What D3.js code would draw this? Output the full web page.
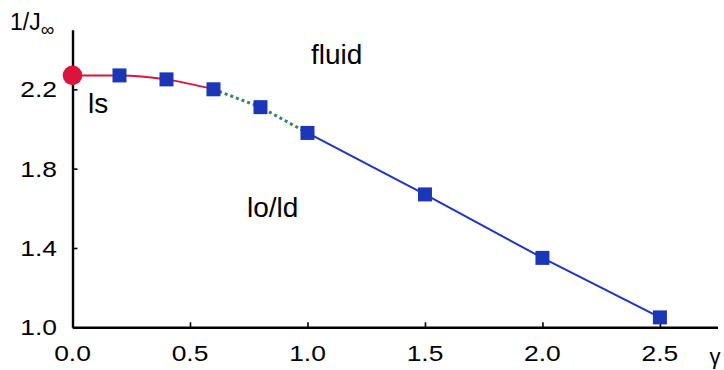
<!DOCTYPE html>
<html>
<head>
<meta charset="utf-8">
<script src="https://cdn.jsdelivr.net/npm/d3@7"></script>
<style>
  html, body { margin: 0; padding: 0; background: #fff; }
  svg { display: block; }
  text { font-family: "Liberation Sans", Arial, Helvetica, sans-serif; fill: #000; }
</style>
</head>
<body>
<svg id="chart" width="724" height="370"></svg>
<script>
// Phase boundary 1/J_inf versus gamma
const lsGamma = [0.0, 0.2, 0.4, 0.6];
const lsValue = [2.27, 2.27, 2.25, 2.20];
const crossGamma = [0.6, 0.8, 1.0];
const crossValue = [2.20, 2.11, 1.98];
const loGamma = [1.0, 1.5, 2.0, 2.5];
const loValue = [1.98, 1.67, 1.35, 1.05];
const squareGamma = [0.2, 0.4, 0.6, 0.8, 1.0, 1.5, 2.0, 2.5];
const squareValue = [2.27, 2.25, 2.20, 2.11, 1.98, 1.67, 1.35, 1.05];
const endGamma = [0.0];
const endValue = [2.27];
const xTicks = [0.0, 0.5, 1.0, 1.5, 2.0, 2.5];
const yTicks = [1.0, 1.4, 1.8, 2.2];
const regionLabels = ["fluid", "ls", "lo/ld"];

const svg = d3.select("#chart");
const x = d3.scaleLinear().domain([0, 2.745]).range([72.5, 717.5]);
const y = d3.scaleLinear().domain([1.0, 2.5]).range([327.3, 29.8]);

const zip = (a, b) => a.map((v, i) => [v, b[i]]);

// axes
const xAxis = d3.axisBottom(x).tickValues(xTicks).tickSizeInner(-5).tickSizeOuter(0).tickFormat("");
const yAxis = d3.axisLeft(y).tickValues(yTicks).tickSizeInner(-5).tickSizeOuter(0).tickFormat("");

const gx = svg.append("g").attr("transform", `translate(0,${y(1.0)})`).call(xAxis);
const gy = svg.append("g").attr("transform", `translate(${x(0)},0)`).call(yAxis);
gx.select(".domain").attr("stroke", "#000").attr("stroke-width", 2.4);
gy.select(".domain").attr("stroke", "#000").attr("stroke-width", 2.4);
gx.selectAll(".tick line").attr("stroke", "#000").attr("stroke-width", 1.6);
gy.selectAll(".tick line").attr("stroke", "#000").attr("stroke-width", 1.6);

// tick labels (drawn slightly widened)
svg.append("g").selectAll("text").data(xTicks).join("text")
  .attr("transform", d => `translate(${x(d)},361) scale(1.2,1)`)
  .attr("text-anchor", "middle")
  .attr("font-size", 22)
  .text(d => d3.format(".1f")(d));

svg.append("g").selectAll("text").data(yTicks).join("text")
  .attr("transform", d => `translate(57,${y(d) + 8}) scale(1.2,1)`)
  .attr("text-anchor", "end")
  .attr("font-size", 22)
  .text(d => d3.format(".1f")(d));

// axis titles
const yTitle = svg.append("text").attr("x", 10).attr("y", 30).attr("font-size", 23);
yTitle.append("tspan").text("1/J");
yTitle.append("tspan").attr("font-size", 19).attr("dy", 6).text("\u221E");

svg.append("text").attr("x", 715).attr("y", 364).attr("text-anchor", "middle")
  .attr("font-size", 22).text("\u03B3");

// lines
const smooth = d3.line().x(d => x(d[0])).y(d => y(d[1])).curve(d3.curveMonotoneX);
const straight = d3.line().x(d => x(d[0])).y(d => y(d[1]));

svg.append("path").datum(zip(lsGamma, lsValue))
  .attr("d", smooth).attr("fill", "none").attr("stroke", "#dc143c").attr("stroke-width", 2);

svg.append("path").datum(zip(crossGamma, crossValue))
  .attr("d", straight).attr("fill", "none").attr("stroke", "#2e8b57")
  .attr("stroke-width", 3).attr("stroke-dasharray", "3,3");

svg.append("path").datum(zip(loGamma, loValue))
  .attr("d", straight).attr("fill", "none").attr("stroke", "#1c36c0").attr("stroke-width", 2);

// markers
svg.append("g").selectAll("circle").data(zip(endGamma, endValue)).join("circle")
  .attr("cx", d => x(d[0])).attr("cy", d => y(d[1])).attr("r", 9.8)
  .attr("fill", "#dc143c");

const s = 14;
svg.append("g").selectAll("rect").data(zip(squareGamma, squareValue)).join("rect")
  .attr("x", d => x(d[0]) - s / 2).attr("y", d => y(d[1]) - s / 2)
  .attr("width", s).attr("height", s).attr("fill", "#1c36b8");

// region labels
const regionPos = [[311, 64], [88, 113], [247, 217]];
svg.append("g").selectAll("text").data(regionLabels).join("text")
  .attr("x", (d, i) => regionPos[i][0]).attr("y", (d, i) => regionPos[i][1])
  .attr("font-size", 28)
  .text(d => d);
</script>
</body>
</html>
